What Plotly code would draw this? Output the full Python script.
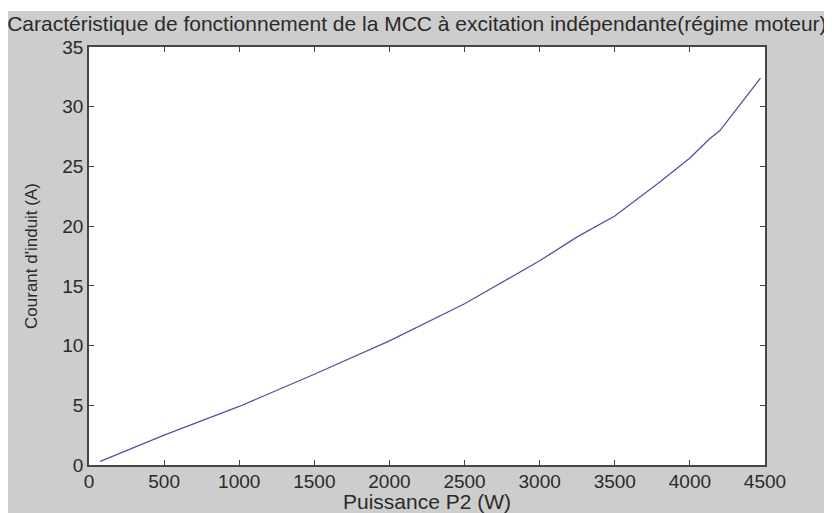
import plotly.graph_objects as go

# Data
puissance_p2 = [75, 500, 1000, 1500, 2000, 2500, 3000, 3250, 3500, 3800, 4000, 4130, 4200, 4330, 4470]
courant_induit = [0.3, 2.5, 4.9, 7.6, 10.4, 13.5, 17.1, 19.1, 20.85, 23.7, 25.7, 27.3, 28.0, 30.1, 32.4]

x_ticks = [0, 500, 1000, 1500, 2000, 2500, 3000, 3500, 4000, 4500]
y_ticks = [0, 5, 10, 15, 20, 25, 30, 35]

title_text = "Caractéristique de fonctionnement de la MCC à excitation indépendante(régime moteur)"
x_label = "Puissance P2 (W)"
y_label = "Courant d'induit (A)"

FONT = "Liberation Sans, Arial, sans-serif"
TXT = "#2a2a2a"
AX = "#454545"
BG = "#cdcdcd"

fig = go.Figure()
fig.add_trace(go.Scatter(
    x=puissance_p2, y=courant_induit, mode="lines",
    line=dict(color="#5252a4", width=1.3),
    showlegend=False, hoverinfo="skip",
))

axis_common = dict(
    showgrid=False, zeroline=False, automargin=False,
    showline=True, linecolor=AX, linewidth=1.5, mirror="ticks",
    ticks="inside", ticklen=5, tickwidth=1.2, tickcolor=AX,
    tickfont=dict(family=FONT, size=19, color=TXT),
)

# The page body adds an 8px white border on the top and left.
fig.update_layout(
    width=824, height=505,
    margin=dict(l=81, r=67, t=39, b=48),
    paper_bgcolor=BG, plot_bgcolor="white",
    title=dict(text=title_text, x=0.485, xref="paper", xanchor="center",
               y=0.969, yref="container", yanchor="middle",
               font=dict(family=FONT, size=21, color=TXT)),
    xaxis=dict(range=[0, 4500], tickvals=x_ticks, ticklabelstandoff=-2, **axis_common,
               title=dict(text=x_label, standoff=10,
                          font=dict(family=FONT, size=21, color=TXT))),
    yaxis=dict(range=[0, 35], tickvals=y_ticks, **axis_common,
               title=dict(text=y_label, standoff=20,
                          font=dict(family=FONT, size=17, color=TXT))),
    shapes=[
        dict(type="rect", xref="paper", yref="paper", layer="below",
             x0=-0.2, x1=1.2, y0=1.0 + 36 / 418, y1=1.2,
             fillcolor="white", line=dict(width=0)),
    ],
)

fig.write_html("out.html")
